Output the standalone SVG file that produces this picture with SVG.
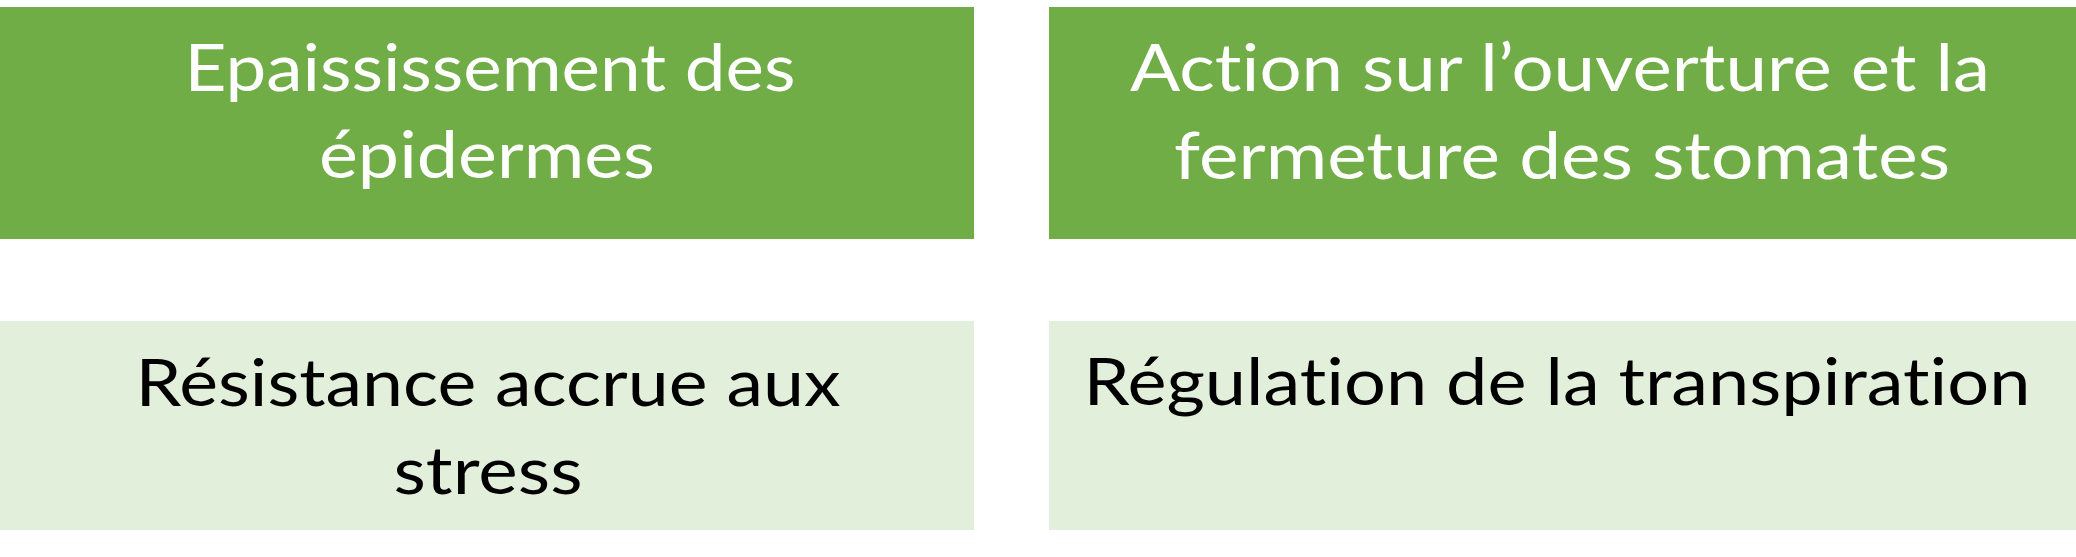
<svg xmlns="http://www.w3.org/2000/svg" width="2076" height="557" viewBox="0 0 2076 557">
<style>
.dark{fill:#70AD47}
.light{fill:#E2EFDA}
.t{font-family:Lato,"Open Sans","Liberation Sans",sans-serif;font-size:66px;text-anchor:middle;font-variant-ligatures:none;font-feature-settings:"liga" 0,"clig" 0,"dlig" 0}
.w{fill:#FFFFFF}
.k{fill:#000000}
</style>
<rect width="2076" height="557" fill="#FFFFFF"/>
<g id="node-epaississement">
<rect class="dark" x="0" y="7" width="974" height="232"/>
<text class="t w" x="490" y="91" textLength="611" lengthAdjust="spacingAndGlyphs">Epaississement des</text>
<text class="t w" x="487" y="178" textLength="336" lengthAdjust="spacingAndGlyphs">épidermes</text>
</g>
<g id="node-action">
<rect class="dark" x="1049" y="7" width="1027" height="232"/>
<text class="t w" x="1560" y="91" textLength="860" lengthAdjust="spacingAndGlyphs">Action sur l’ouverture et la</text>
<text class="t w" x="1562" y="179" textLength="776" lengthAdjust="spacingAndGlyphs">fermeture des stomates</text>
</g>
<g id="node-resistance">
<rect class="light" x="0" y="321" width="974" height="209"/>
<text class="t k" x="488" y="406" textLength="705" lengthAdjust="spacingAndGlyphs">Résistance accrue aux</text>
<text class="t k" x="488" y="494" textLength="189" lengthAdjust="spacingAndGlyphs">stress</text>
</g>
<g id="node-regulation">
<rect class="light" x="1049" y="321" width="1027" height="209"/>
<text class="t k" x="1557" y="405" textLength="947" lengthAdjust="spacingAndGlyphs">Régulation de la transpiration</text>
</g>
<g id="connectors"></g>
</svg>
